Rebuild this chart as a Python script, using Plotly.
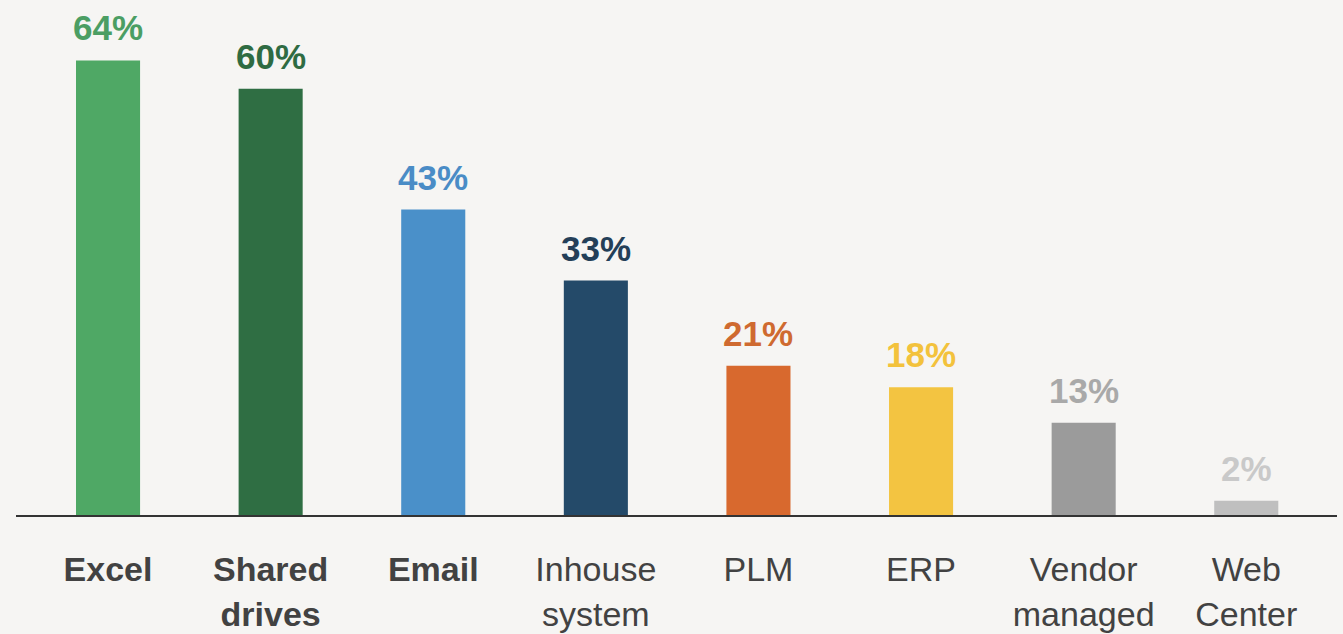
import plotly.graph_objects as go

categories = ["Excel", "Shared drives", "Email", "Inhouse system", "PLM", "ERP", "Vendor managed", "Web Center"]
tick_labels = ["<b>Excel</b>", "<b>Shared</b><br><b>drives</b>", "<b>Email</b>", "Inhouse<br>system",
               "PLM", "ERP", "Vendor<br>managed", "Web<br>Center"]
values = [64, 60, 43, 33, 21, 18, 13, 2]
bar_colors = ["#4fa865", "#2f6e43", "#4a90c9", "#244a69", "#d8692e", "#f3c441", "#9b9b9b", "#bfbfbf"]
label_colors = ["#4b9e63", "#2f6b42", "#4a8cc6", "#243f58", "#cf6a30", "#f3c23c", "#a9a9a9", "#c9c9c9"]

x_pos = list(range(len(categories)))

fig = go.Figure()
fig.add_trace(go.Bar(
    x=x_pos, y=values, marker=dict(color=bar_colors, line=dict(width=0)),
    width=0.394, hoverinfo="skip",
))

for xi, v, c in zip(x_pos, values, label_colors):
    fig.add_annotation(
        x=xi, y=v, text=f"<b>{v}%</b>", showarrow=False,
        xanchor="center", yanchor="bottom", yshift=11,
        font=dict(family="Liberation Sans, Arial, sans-serif", size=35, color=c),
    )

fig.update_layout(
    width=1343, height=634,
    margin=dict(l=16, r=6, t=0, b=119),
    paper_bgcolor="#f6f5f3", plot_bgcolor="#f6f5f3",
    showlegend=False,
    font=dict(family="Liberation Sans, Arial, sans-serif", color="#404040"),
    xaxis=dict(
        range=[-0.566, 7.558], tickmode="array", tickvals=x_pos, ticktext=tick_labels,
        showgrid=False, zeroline=False, showline=True, linecolor="#333333", linewidth=1.5,
        ticks="outside", ticklen=24, tickcolor="rgba(0,0,0,0)", automargin=False,
        tickfont=dict(size=34, color="#424242", family="Liberation Sans, Arial, sans-serif"),
        fixedrange=True,
    ),
    yaxis=dict(range=[0, 72.5], visible=False, showgrid=False, zeroline=False,
               fixedrange=True, automargin=False),
)

fig.write_html(
    "out.html",
    config={"displayModeBar": False, "staticPlot": True},
    post_script="document.body.style.margin='0px';document.body.style.padding='0px';document.body.style.overflow='hidden';",
)
